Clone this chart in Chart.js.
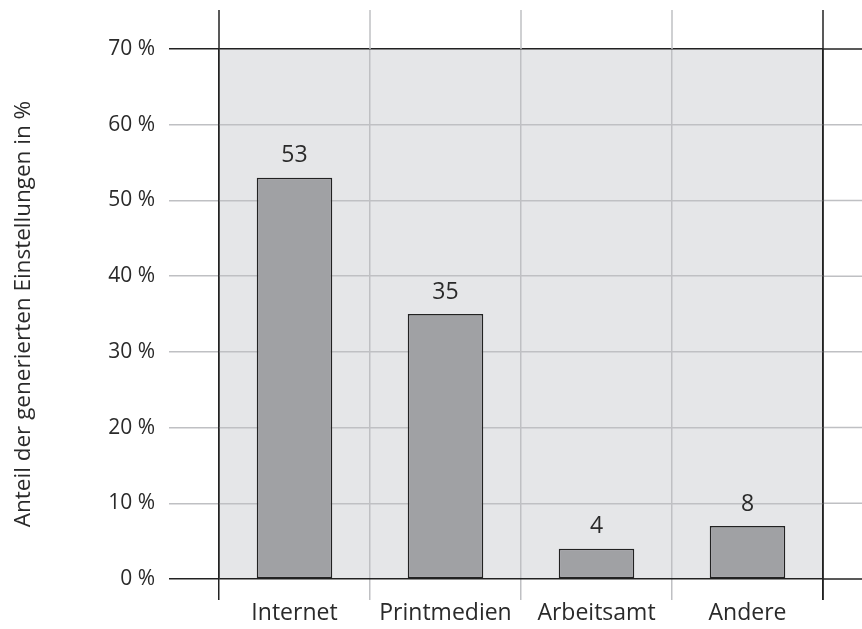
<!DOCTYPE html>
<html><head><meta charset="utf-8">
<script src="https://cdn.jsdelivr.net/npm/chart.js@4"></script>
<style>html,body{margin:0;padding:0;background:#fff}#wrap{width:862px;height:629px}</style>
</head><body><div id="wrap"><canvas id="c" width="862" height="629"></canvas></div>
<script>
const categories = ["Internet", "Printmedien", "Arbeitsamt", "Andere"];
const values = [53, 35, 4, 7];
const valueLabels = ["53", "35", "4", "8"];
const yTicks = [0, 10, 20, 30, 40, 50, 60, 70];
const yTitle = "Anteil der generierten Einstellungen in %";

const DARK = '#222222', TEXT = '#2a2a2a', LIGHT = '#bfc0c3', FONT = "'Open Sans', sans-serif";

const deco = {
  id: 'deco',
  beforeDraw(chart) {
    const {ctx, chartArea: a} = chart;
    ctx.save(); ctx.fillStyle = '#e5e6e8';
    ctx.fillRect(a.left, a.top, a.right - a.left, a.bottom - a.top);
    ctx.restore();
  },
  afterDraw(chart) {
    const {ctx, chartArea: a, scales} = chart;
    const y = scales.y, x = scales.x;
    ctx.save(); ctx.lineWidth = 1.5;
    yTicks.forEach((v, i) => {
      const py = y.getPixelForValue(v);
      ctx.strokeStyle = (i === 0 || i === yTicks.length - 1) ? DARK : LIGHT;
      ctx.beginPath(); ctx.moveTo(a.right, py); ctx.lineTo(chart.width, py); ctx.stroke();
    });
    const n = categories.length;
    for (let i = 0; i <= n; i++) {
      const px = x.getPixelForValue(i - 0.5);
      ctx.strokeStyle = (i === 0 || i === n) ? DARK : LIGHT;
      ctx.beginPath(); ctx.moveTo(px, 10); ctx.lineTo(px, (i === n) ? a.bottom + 21 : a.top); ctx.stroke();
    }
    ctx.restore();
  },
  afterDatasetsDraw(chart) {
    const {ctx} = chart;
    const meta = chart.getDatasetMeta(0);
    ctx.save();
    ctx.fillStyle = TEXT; ctx.font = "23px " + FONT;
    ctx.textAlign = 'center'; ctx.textBaseline = 'middle';
    meta.data.forEach((el, i) => { ctx.fillText(valueLabels[i], el.x, el.y - 22); });
    ctx.restore();
  }
};

new Chart(document.getElementById('c'), {
  type: 'bar',
  data: { labels: categories, datasets: [{
    data: values, backgroundColor: '#a0a1a4', borderColor: DARK, borderWidth: 1.5,
    borderSkipped: false, barPercentage: 0.5, categoryPercentage: 1.0 }] },
  options: {
    responsive: false, animation: false, devicePixelRatio: 1,
    layout: { padding: { top: 49, right: 39, left: 0, bottom: 0 } },
    plugins: { legend: { display: false }, tooltip: { enabled: false } },
    scales: {
      x: {
        offset: true,
        grid: { offset: true, lineWidth: 1.5, tickLength: 21,
          color: c => (c.index === 0 || c.index === undefined || c.index >= categories.length) ? DARK : LIGHT },
        border: { display: false },
        ticks: { color: TEXT, font: { family: FONT, size: 23 }, padding: 0 },
        afterFit: s => { s.height = 50; }
      },
      y: {
        min: 0, max: 70,
        afterBuildTicks: s => { s.ticks = yTicks.map(v => ({ value: v })); },
        grid: { lineWidth: 1.5, tickLength: 50,
          color: c => (c.tick && (c.tick.value === 0 || c.tick.value === 70)) ? DARK : LIGHT },
        border: { display: true, color: DARK, width: 1.5 },
        ticks: { color: TEXT, font: { family: FONT, size: 21 }, padding: 14,
          callback: v => v + ' %' },
        title: { display: true, text: yTitle, color: TEXT,
          font: { family: FONT, size: 22.5 }, padding: { top: 10, bottom: 0 } },
        afterFit: s => { s.width = 219; }
      }
    }
  },
  plugins: [deco]
});
</script></body></html>
